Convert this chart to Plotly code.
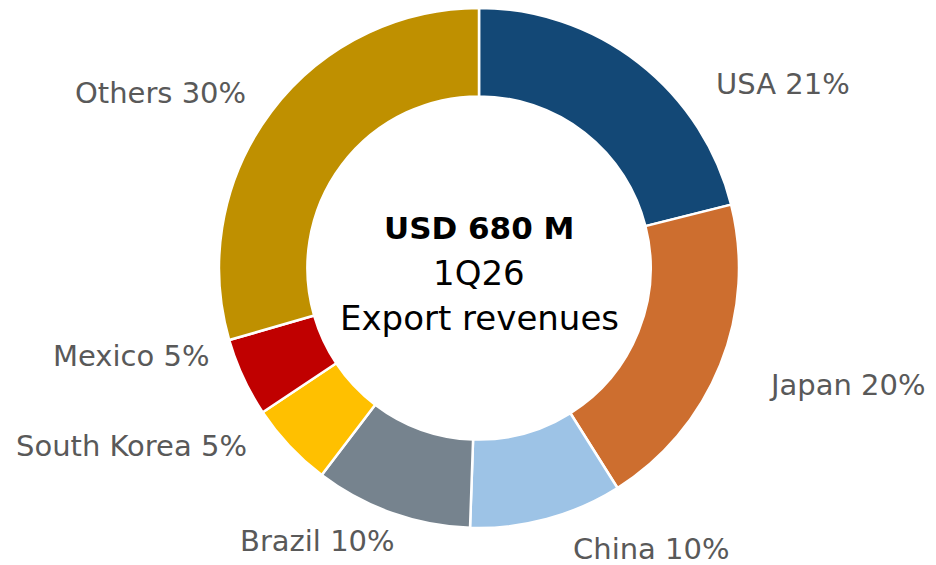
import plotly.graph_objects as go

# ---- data ----
countries = ["USA", "Japan", "China", "Brazil", "South Korea", "Mexico", "Others"]
shares = [21.1, 20.0, 9.5, 9.8, 5.3, 4.9, 29.5]
share_labels = ["21%", "20%", "10%", "10%", "5%", "5%", "30%"]
center_title = "USD 680 M"
center_period = "1Q26"
center_caption = "Export revenues"

# ---- style ----
colors = ["#134876", "#CD6E2F", "#9DC3E6", "#76838E", "#FFC000", "#C00000", "#BF9000"]
PAGE_MARGIN = 8                     # default body margin of the html page
W, H = 936 - PAGE_MARGIN, 565 - PAGE_MARGIN
CX, CY, R = 479 - PAGE_MARGIN, 268 - PAGE_MARGIN, 260   # pie centre / radius (px)
label_dx = [304, 368, 172, -162, -347, -348, -319]       # label offsets from centre (px)
label_dy = [-184, 117, 281, 273, 178, 88, -175]
FONT = "DejaVu Sans"

fig = go.Figure(go.Pie(
    labels=countries,
    values=shares,
    sort=False,
    direction="clockwise",
    rotation=0,
    hole=0.66,
    textinfo="none",
    marker=dict(colors=colors, line=dict(color="white", width=2.5)),
    domain=dict(x=[(CX - R) / W, (CX + R) / W],
                y=[(H - CY - R) / H, (H - CY + R) / H]),
    showlegend=False,
    hoverinfo="label+percent",
))

annotations = []
for name, pct, dx, dy in zip(countries, share_labels, label_dx, label_dy):
    annotations.append(dict(
        x=(CX + dx) / W, y=1 - (CY + dy) / H, xref="paper", yref="paper",
        text=f"{name} {pct}", showarrow=False, xanchor="center", yanchor="middle",
        font=dict(family=FONT, size=29, color="#595959"),
    ))

center_lines = [(center_title, True, 31, -40), (center_period, False, 34, 4.5),
                (center_caption, False, 34, 49.5)]
for txt, bold, size, dy in center_lines:
    annotations.append(dict(
        x=CX / W, y=1 - (CY + dy) / H, xref="paper", yref="paper",
        text=f"<b>{txt}</b>" if bold else txt, showarrow=False,
        xanchor="center", yanchor="middle",
        font=dict(family=FONT, size=size, color="#000000"),
    ))

fig.update_layout(
    width=W, height=H,
    margin=dict(l=0, r=0, t=0, b=0),
    paper_bgcolor="white", plot_bgcolor="white",
    annotations=annotations,
)

fig.write_html("out.html")
